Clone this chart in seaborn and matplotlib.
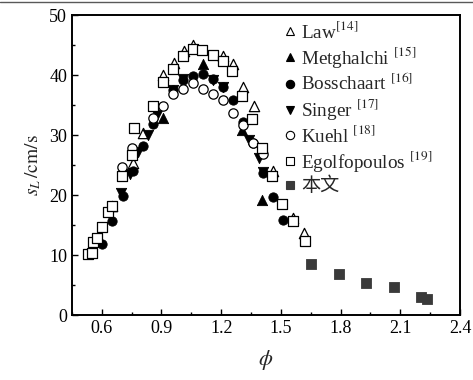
import matplotlib
matplotlib.use("Agg")
import matplotlib.pyplot as plt
from matplotlib.lines import Line2D
from matplotlib.ticker import MultipleLocator
import seaborn as sns
import pandas as pd

# ---- data ----
law_phi = [0.65, 0.755, 0.808, 0.909, 0.963, 1.014, 1.06, 1.21, 1.26, 1.31, 1.365, 1.458, 1.56, 1.615]
law_sl = [18.2, 25.3, 30.3, 40.0, 42.0, 44.0, 45.0, 43.2, 41.9, 38.0, 34.8, 24.0, 16.2, 13.6]

met_phi = [0.909, 1.11, 1.307, 1.405]
met_sl = [32.9, 41.9, 30.8, 19.2]

bos_phi = [0.599, 0.653, 0.708, 0.757, 0.807, 0.858, 0.959, 1.009, 1.06, 1.11, 1.16, 1.21, 1.257, 1.31, 1.36, 1.409, 1.461, 1.509]
bos_sl = [11.8, 15.6, 19.8, 24.0, 28.2, 31.9, 37.5, 39.2, 39.8, 40.2, 39.4, 38.0, 35.8, 32.2, 28.7, 23.6, 19.6, 15.9]

sin_phi = [0.697, 0.743, 0.784, 0.83, 0.88, 0.96, 1.01, 1.16, 1.21, 1.34, 1.39, 1.41]
sin_sl = [20.4, 23.5, 27.2, 30.0, 33.3, 37.5, 39.3, 39.2, 38.0, 29.2, 26.1, 23.9]

kue_phi = [0.702, 0.752, 0.857, 0.909, 0.959, 1.009, 1.06, 1.11, 1.16, 1.21, 1.257, 1.308, 1.359, 1.409]
kue_sl = [24.7, 27.9, 32.8, 34.8, 36.8, 37.6, 38.7, 37.6, 36.9, 35.8, 33.7, 31.7, 28.7, 26.8]

ego_phi = [0.532, 0.549, 0.557, 0.577, 0.599, 0.632, 0.653, 0.70, 0.752, 0.762, 0.858, 0.909, 0.959, 1.009,
           1.06, 1.106, 1.16, 1.207, 1.254, 1.307, 1.357, 1.406, 1.456, 1.506, 1.56, 1.62]
ego_sl = [10.2, 10.3, 12.1, 12.9, 14.6, 17.1, 18.1, 23.1, 26.6, 31.1, 34.8, 38.9, 41.0, 43.2,
          44.3, 44.2, 43.3, 42.4, 40.6, 36.5, 32.6, 27.9, 23.1, 18.5, 15.7, 12.3]

this_phi = [1.65, 1.79, 1.927, 2.068, 2.204, 2.235]
this_sl = [8.5, 6.8, 5.3, 4.6, 2.95, 2.7]

labels = ["Law$^{[14]}$", "Metghalchi $^{[15]}$", "Bosschaart $^{[16]}$", "Singer $^{[17]}$",
          "Kuehl $^{[18]}$", "Egolfopoulos $^{[19]}$", "本文"]
x_ticks = [0.6, 0.9, 1.2, 1.5, 1.8, 2.1, 2.4]
y_ticks = [0, 10, 20, 30, 40, 50]

# ---- style ----
sns.set_style("ticks")
plt.rcParams["font.family"] = ["Liberation Serif", "Noto Sans CJK SC"]
plt.rcParams["mathtext.fontset"] = "stix"

fig = plt.figure(figsize=(4.73, 3.8), dpi=100)
ax = fig.add_axes([0.152, 0.171, 0.8205, 0.7895])

series = [
    (law_phi, law_sl, "^", False, "black"),
    (met_phi, met_sl, "^", True, "black"),
    (bos_phi, bos_sl, "o", True, "black"),
    (sin_phi, sin_sl, "v", True, "black"),
    (kue_phi, kue_sl, "o", False, "black"),
    (ego_phi, ego_sl, "s", False, "black"),
    (this_phi, this_sl, "s", True, "#3a3a3a"),
]
sizes = {"^": 55, "v": 55, "o": 45, "s": 42}

handles = []
for (xs, ys, m, filled, col), lab in zip(series, labels):
    df = pd.DataFrame({"phi": xs, "sl": ys})
    if filled:
        sns.scatterplot(data=df, x="phi", y="sl", marker=m, s=sizes[m], color=col,
                        edgecolor=col, linewidth=0.6, ax=ax, zorder=3)
    else:
        sns.scatterplot(data=df, x="phi", y="sl", marker=m, s=sizes[m], facecolor="white",
                        edgecolor=col, linewidth=0.9, ax=ax, zorder=3)
    handles.append(Line2D([], [], linestyle="none", marker=m, markersize=6,
                          markerfacecolor=(col if filled else "white"),
                          markeredgecolor=col, markeredgewidth=0.8, label=lab))

ax.set_xlim(0.45, 2.4)
ax.set_ylim(0, 50)
ax.set_xticks(x_ticks)
ax.set_xticklabels([f"{t:.1f}" for t in x_ticks])
ax.set_yticks(y_ticks)
ax.xaxis.set_minor_locator(MultipleLocator(0.15))
ax.yaxis.set_minor_locator(MultipleLocator(5))
ax.tick_params(which="both", direction="in", top=False, right=False, labelsize=13, colors="black")
ax.tick_params(which="major", length=4, width=1.0)
ax.tick_params(which="minor", length=2.5, width=1.0)
for sp in ax.spines.values():
    sp.set_visible(True)
    sp.set_linewidth(1.4)
    sp.set_color("black")

ax.set_xlabel(r"$\phi$", fontsize=16, labelpad=8)
ax.set_ylabel(r"$s_L\,/\mathrm{cm/s}$", fontsize=14, labelpad=4)

leg = ax.legend(handles=handles, loc="upper left", bbox_to_anchor=(0.512, 1.025), frameon=False,
                handlelength=0.6, handletextpad=0.3, labelspacing=0.15,
                borderpad=0.2, prop={"family": ["Liberation Serif", "Noto Sans CJK SC"], "size": 13.8})

fig.add_artist(Line2D([0, 1], [0.995, 0.995], color="0.35", linewidth=1.0, transform=fig.transFigure))

fig.savefig("out.png", dpi=100, facecolor="white")
